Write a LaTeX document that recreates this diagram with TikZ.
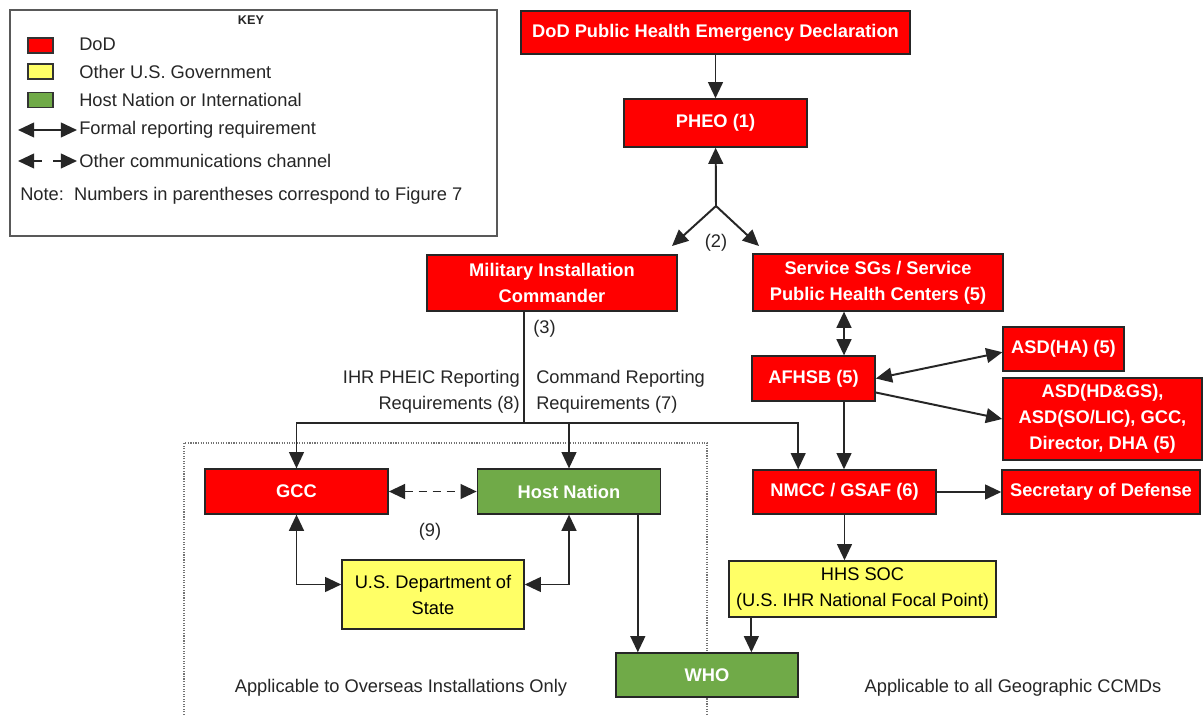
\documentclass[tikz,border=0pt]{standalone}
\usepackage{fontspec}
\setmainfont{Liberation Sans}
\usetikzlibrary{calc,positioning,arrows.meta}
\definecolor{dodred}{RGB}{255,0,0}
\definecolor{govyellow}{RGB}{255,255,102}
\definecolor{intgreen}{RGB}{112,170,72}

\begin{document}
\begin{tikzpicture}[x=0.025cm,y=-0.025cm,>={Triangle[length=11.5pt,width=10.5pt]},
    box/.style={draw=black!85,line width=1pt,rectangle,inner sep=0pt,align=center,font=\fontsize{13}{18.5}\selectfont},
    dod/.style={box,fill=dodred,text=white,font=\fontsize{13}{18.5}\selectfont\bfseries},
    usg/.style={box,fill=govyellow,text=black},
    hni/.style={box,fill=intgreen,text=white,font=\fontsize{13}{18.5}\selectfont\bfseries},
    lnk/.style={line width=1.4pt,draw=black!85},
    txt/.style={font=\fontsize{13}{18.5}\selectfont,text=black!85,inner sep=0pt},
    swatch/.style={draw=black!80,line width=1pt,minimum width=0.62cm,minimum height=0.37cm,inner sep=0pt}]
  \useasboundingbox (0,0) rectangle (1204,715);
  \fill[white] (0,0) rectangle (1204,715);

  % key
  \draw[black!65,line width=1.2pt] (10,10) rectangle (497,236);
  \node[font=\fontsize{9}{10}\selectfont\bfseries,text=black!85] (keyttl) at (251,20) {KEY};
  \node[swatch,fill=dodred] (kred) at (40.5,45.5) {};
  \node[swatch,fill=govyellow] (kyel) at (40.5,71.5) {};
  \node[swatch,fill=intgreen] (kgrn) at (40.5,100) {};
  \node[txt,anchor=west] (kdod) at (79,44) {DoD};
  \node[txt,anchor=west] (kusg) at (79,72) {Other U.S. Government};
  \node[txt,anchor=west] (khni) at (79,100) {Host Nation or International};
  \node[txt,anchor=west] (kfrm) at (79,130) {Formal reporting requirement};
  \node[txt,anchor=west] (koth) at (79,161) {Other communications channel};
  \node[txt,anchor=west] (knote) at (20,196) {Note:\ \ Numbers in parentheses correspond to Figure 7};
  \coordinate (fa1) at (18,130); \coordinate (fa2) at (77,130);
  \coordinate (oa1) at (18,161); \coordinate (oa2) at (77,161);
  \draw[lnk,<->] (fa1) -- (fa2);
  \draw[lnk,<->,dash pattern=on 6pt off 8pt] (oa1) -- (oa2);

  \draw[black!55,densely dotted,line width=0.8pt] (184,715) -- (184,443) -- (707,443) -- (707,715);

  \node[dod,minimum width=9.72cm,minimum height=1.08cm] (decl) at (715.5,32.5) {DoD Public Health Emergency Declaration};
  \node[dod,minimum width=4.58cm,minimum height=1.2cm] (pheo) at (715.5,123) {PHEO (1)};
  \node[dod,minimum width=6.25cm,minimum height=1.4cm] (mic) at (552,283) {Military Installation\\Commander};
  \node[dod,minimum width=6.25cm,minimum height=1.42cm] (ssg) at (878,282.5) {Service SGs / Service\\Public Health Centers (5)};
  \node[dod,minimum width=3.08cm,minimum height=1.12cm] (afhsb) at (813.5,378.5) {AFHSB (5)};
  \node[dod,minimum width=3.02cm,minimum height=1.1cm] (asdha) at (1063.5,349) {ASD(HA) (5)};
  \node[dod,minimum width=4.98cm,minimum height=2.05cm] (asdhd) at (1102.5,419) {ASD(HD\&GS),\\ASD(SO/LIC), GCC,\\Director, DHA (5)};
  \node[dod,minimum width=4.58cm,minimum height=1.12cm] (gcc) at (296.5,491.5) {GCC};
  \node[hni,minimum width=4.58cm,minimum height=1.12cm] (hn) at (569,491.5) {Host Nation};
  \node[usg,minimum width=4.55cm,minimum height=1.72cm] (state) at (433,594.5) {U.S. Department of\\State};
  \node[dod,minimum width=4.58cm,minimum height=1.1cm] (nmcc) at (844.5,492) {NMCC / GSAF (6)};
  \node[dod,minimum width=4.95cm,minimum height=1.1cm] (secdef) at (1101,492) {Secretary of Defense};
  \node[usg,minimum width=6.68cm,minimum height=1.4cm] (hhs) at (862.5,589) {HHS SOC\\(U.S. IHR National Focal Point)};
  \node[hni,minimum width=4.55cm,minimum height=1.1cm] (who) at (707,675) {WHO};

  \node[txt] (n2) at (716,243) {(2)};
  \node[txt,anchor=west] (n3) at (533,329) {(3)};
  \node[txt,anchor=east,align=right] (ihr) at (520,392) {IHR PHEIC Reporting\\Requirements (8)};
  \node[txt,anchor=west,align=left] (cmd) at (536,392) {Command Reporting\\Requirements (7)};
  \node[txt] (n9) at (430,532) {(9)};
  \node[txt] (overseas) at (401,688) {Applicable to Overseas Installations Only};
  \node[txt] (allccmd) at (1013,688) {Applicable to all Geographic CCMDs};

  \draw[lnk,->] (decl) -- (pheo);
  \coordinate (fork) at (716,206);
  \coordinate (tomic) at (672,246);
  \coordinate (tossg) at (759,246);
  \draw[lnk,->] (fork) -- (pheo);
  \draw[lnk,->] (fork) -- (tomic);
  \draw[lnk,->] (fork) -- (tossg);

  \coordinate (split) at (524,423);
  \draw[lnk,line width=1.1pt] (mic.south -| split) -- (split);
  \draw[lnk,line width=1.1pt,->] (split) -| (gcc);
  \draw[lnk,line width=1.1pt,->] (split) -| (hn);
  \draw[lnk,line width=1.1pt,->] (split) -| ([xshift=1.15cm]nmcc.north west);

  \draw[lnk,<->,dash pattern=on 6pt off 4pt] (gcc) -- (hn);
  \draw[lnk,<->] (gcc) |- ([yshift=0.25cm]state.west);
  \draw[lnk,<->] (hn) |- ([yshift=0.25cm]state.east);
  \draw[lnk,->] ([xshift=1.72cm]hn.south) -- ([xshift=1.72cm]hn.south |- who.north);
  \draw[lnk,->] ([xshift=0.58cm]hhs.south west) -- ([xshift=0.58cm]hhs.south west |- who.north);

  \coordinate (col) at (844,0);
  \draw[lnk,<->] (ssg.south -| col) -- (afhsb.north -| col);
  \draw[lnk,->] (afhsb.south -| col) -- (nmcc.north -| col);
  \draw[lnk,<->] (afhsb.east) -- ([yshift=-0.08cm]asdha.west);
  \draw[lnk,->] ([yshift=-0.35cm]afhsb.east) -- (asdhd.west);
  \draw[lnk,->] (nmcc) -- (secdef);
  \draw[lnk,->] (nmcc) -- (hhs.north -| nmcc);
\end{tikzpicture}
\end{document}
